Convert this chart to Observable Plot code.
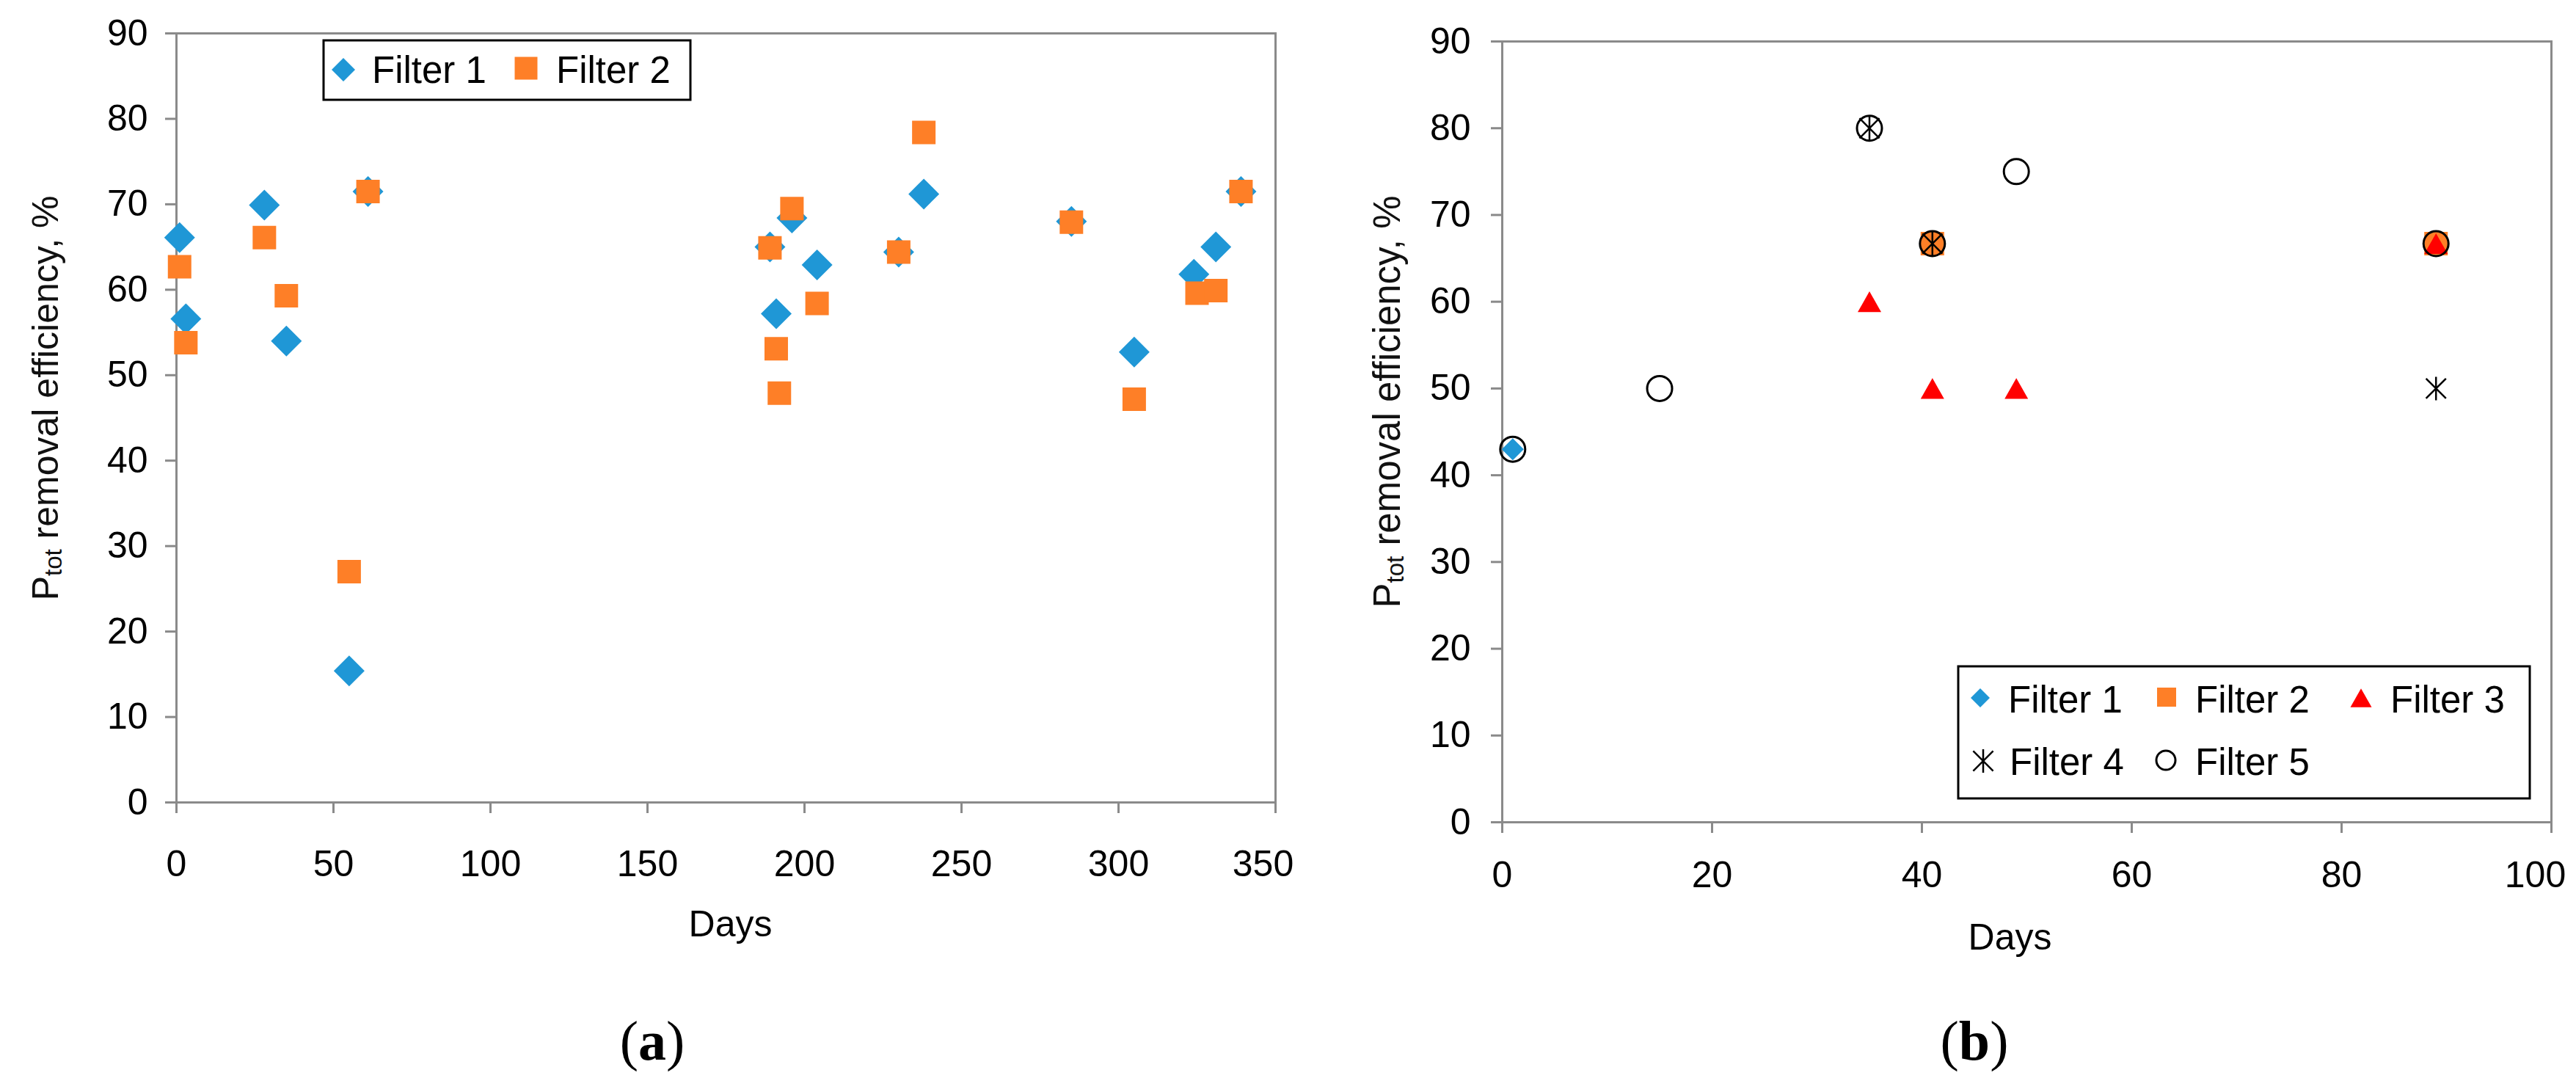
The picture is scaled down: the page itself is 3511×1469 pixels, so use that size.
<!DOCTYPE html>
<html><head><meta charset="utf-8">
<script src="https://cdn.jsdelivr.net/npm/d3@7"></script>
<script src="https://cdn.jsdelivr.net/npm/@observablehq/plot@0.6"></script>
<style>
html,body{margin:0;padding:0;background:#fff;}
#wrap{position:relative;width:3511px;height:1469px;background:#fff;overflow:hidden;font-family:"Liberation Sans",Arial,sans-serif;}
.cap{position:absolute;font-family:"Liberation Serif","Times New Roman",serif;font-size:76px;line-height:1;transform:translate(-50%,-50%);white-space:nowrap;color:#000;}
.cap b{font-weight:bold;}
</style></head><body><div id="wrap"></div>
<script>
// ---------- data: panel (a) ----------
const daysA_F1 = [1, 3, 28, 35, 55, 61, 189, 191, 196, 204, 230, 238, 285, 305, 324, 331, 339];
const effA_F1  = [66.1, 56.6, 69.9, 54.0, 15.4, 71.5, 65.0, 57.2, 68.4, 62.9, 64.4, 71.2, 68.0, 52.7, 61.8, 65.0, 71.5];
const daysA_F2 = [1, 3, 28, 35, 55, 61, 189, 191, 192, 196, 204, 230, 238, 285, 305, 325, 331, 339];
const effA_F2  = [62.7, 53.8, 66.1, 59.3, 27.0, 71.5, 64.9, 53.1, 47.9, 69.5, 58.4, 64.4, 78.4, 67.9, 47.2, 59.6, 59.9, 71.5];
const xTicksA = [0, 50, 100, 150, 200, 250, 300, 350];

// ---------- data: panel (b) ----------
const daysB_F1 = [1, 41, 89];
const effB_F1  = [43, 66.7, 66.7];
const daysB_F2 = [41, 89];
const effB_F2  = [66.7, 66.7];
const daysB_F3 = [35, 41, 49, 89];
const effB_F3  = [60, 50, 50, 66.7];
const daysB_F4 = [35, 41, 89];
const effB_F4  = [80, 66.7, 50];
const daysB_F5 = [1, 15, 35, 41, 49, 89];
const effB_F5  = [43, 50, 80, 66.7, 75, 66.7];
const xTicksB = [0, 20, 40, 60, 80, 100];
const yTicks = [0, 10, 20, 30, 40, 50, 60, 70, 80, 90];

const seriesNames = ["Filter 1", "Filter 2", "Filter 3", "Filter 4", "Filter 5"];
const yLabel = "Ptot removal efficiency, %";
const xLabel = "Days";

const BLUE = "#1f97d6", ORANGE = "#fe7f27", RED = "#ff0000", AXIS = "#8a8a8a";

// ---------- custom symbols (size = pi r^2) ----------
const rad = s => Math.sqrt(s / Math.PI);
const symDiamond = {draw(c, s){const r = rad(s); c.moveTo(0,-r); c.lineTo(r,0); c.lineTo(0,r); c.lineTo(-r,0); c.closePath();}};
const symSquare = {draw(c, s){const r = rad(s); c.moveTo(-r,-r); c.lineTo(r,-r); c.lineTo(r,r); c.lineTo(-r,r); c.closePath();}};
const symTriangle = {draw(c, s){const r = rad(s); c.moveTo(0,-0.88*r); c.lineTo(r,0.88*r); c.lineTo(-r,0.88*r); c.closePath();}};
const symAsterisk = {draw(c, s){const r = rad(s); const a = r*0.85; c.moveTo(0,-r); c.lineTo(0,r); c.moveTo(-a,-a); c.lineTo(a,a); c.moveTo(-a,a); c.lineTo(a,-a);}};
const symCircle = {draw(c, s){const r = rad(s); c.moveTo(r,0); c.arc(0,0,r,0,2*Math.PI);}};

const rows = (days, vals) => days.map((d, i) => ({day: d, eff: vals[i]}));

const wrap = document.getElementById("wrap");

function fixYLabel(svg){
  svg.querySelectorAll("text").forEach(t => {
    if (t.textContent === yLabel) {
      while (t.firstChild) t.removeChild(t.firstChild);
      const ns = "http://www.w3.org/2000/svg";
      const a = document.createElementNS(ns, "tspan"); a.textContent = "P";
      const b = document.createElementNS(ns, "tspan"); b.textContent = "tot"; b.setAttribute("font-size", "33"); b.setAttribute("dy", "5");
      const c = document.createElementNS(ns, "tspan"); c.textContent = " removal efficiency, %"; c.setAttribute("dy", "-5");
      t.appendChild(a); t.appendChild(b); t.appendChild(c);
    }
  });
}

const baseStyle = {fontFamily: "'Liberation Sans', Arial, sans-serif", fontSize: "50px", color: "#000", background: "transparent", overflow: "visible"};

// x tick labels: all but the last at the tick, the last nudged inwards as in the reference
function xAxisMarks(ticks, pad, lastDx){
  return [
    Plot.axisX({ticks, tickSize: 15, stroke: AXIS, strokeWidth: 3, text: null, label: null}),
    Plot.axisX({ticks: ticks.slice(0, -1), tickSize: 0, tickPadding: 15 + pad, fill: "#000", fontSize: 50, label: null}),
    Plot.axisX({ticks: ticks.slice(-1), tickSize: 0, tickPadding: 15 + pad, dx: lastDx, fill: "#000", fontSize: 50, label: null})
  ];
}

// ---------- panel (a) ----------
const plotA = Plot.plot({
  width: 1760, height: 1320,
  marginLeft: 240, marginRight: 22, marginTop: 45, marginBottom: 227,
  style: baseStyle,
  x: {domain: [0, 350]},
  y: {domain: [0, 90]},
  marks: [
    Plot.frame({stroke: AXIS, strokeWidth: 3}),
    Plot.axisY({ticks: yTicks, tickSize: 15, tickPadding: 24, stroke: AXIS, strokeWidth: 3, fill: "#000", fontSize: 50, label: null}),
    ...xAxisMarks(xTicksA, 50, -17),
    Plot.dot(rows(daysA_F1, effA_F1), {x: "day", y: "eff", symbol: symDiamond, r: 21, fill: BLUE}),
    Plot.dot(rows(daysA_F2, effA_F2), {x: "day", y: "eff", symbol: symSquare, r: 16, fill: ORANGE}),
    Plot.text([yLabel], {text: d => d, frameAnchor: "left", textAnchor: "middle", rotate: -90, dx: -178, dy: -27, fontSize: 50, fill: "#111"}),
    Plot.text([xLabel], {text: d => d, frameAnchor: "bottom", textAnchor: "middle", lineAnchor: "top", dx: 6, dy: 147, fontSize: 50, fill: "#000"})
  ]
});
plotA.style.position = "absolute"; plotA.style.left = "0px"; plotA.style.top = "0px";
fixYLabel(plotA);
wrap.appendChild(plotA);

// ---------- panel (b) ----------
const plotB = Plot.plot({
  width: 1751, height: 1320,
  marginLeft: 287, marginRight: 34, marginTop: 56, marginBottom: 200,
  style: baseStyle,
  x: {domain: [0, 100]},
  y: {domain: [0, 90]},
  marks: [
    Plot.frame({stroke: AXIS, strokeWidth: 3}),
    Plot.axisY({ticks: yTicks, tickSize: 15, tickPadding: 28, stroke: AXIS, strokeWidth: 3, fill: "#000", fontSize: 50, label: null}),
    ...xAxisMarks(xTicksB, 38, -22),
    Plot.dot(rows(daysB_F1, effB_F1), {x: "day", y: "eff", symbol: symDiamond, r: 15, fill: BLUE}),
    Plot.dot(rows(daysB_F2, effB_F2), {x: "day", y: "eff", symbol: symSquare, r: 16, fill: ORANGE}),
    Plot.dot(rows(daysB_F3, effB_F3), {x: "day", y: "eff", symbol: symTriangle, r: 16, fill: RED}),
    Plot.dot(rows(daysB_F4, effB_F4), {x: "day", y: "eff", symbol: symAsterisk, r: 16, fill: "none", stroke: "#000", strokeWidth: 2.5}),
    Plot.dot(rows(daysB_F5, effB_F5), {x: "day", y: "eff", symbol: symCircle, r: 17, fill: "none", stroke: "#000", strokeWidth: 3}),
    Plot.text([yLabel], {text: d => d, frameAnchor: "left", textAnchor: "middle", rotate: -90, dx: -156, dy: -41, fontSize: 51, fill: "#111"}),
    Plot.text([xLabel], {text: d => d, frameAnchor: "bottom", textAnchor: "middle", lineAnchor: "top", dx: -23, dy: 138, fontSize: 50, fill: "#000"})
  ]
});
plotB.style.position = "absolute"; plotB.style.left = "1760px"; plotB.style.top = "0px";
fixYLabel(plotB);
wrap.appendChild(plotB);

// ---------- legends (overlay) ----------
const ov = d3.select(wrap).append("svg")
  .attr("width", 3511).attr("height", 1469)
  .style("position", "absolute").style("left", "0px").style("top", "0px")
  .style("pointer-events", "none")
  .style("font-family", "'Liberation Sans', Arial, sans-serif");

function sym(obj, cx, cy, r, fill, stroke, sw){
  ov.append("path").attr("d", d3.symbol(obj, Math.PI * r * r)())
    .attr("transform", `translate(${cx},${cy})`)
    .attr("fill", fill).attr("stroke", stroke || "none").attr("stroke-width", sw || 0);
}
function label(txt, x, y){
  ov.append("text").attr("x", x).attr("y", y).attr("font-size", 51).attr("fill", "#000").text(txt);
}

// legend (a)
ov.append("rect").attr("x", 441).attr("y", 55).attr("width", 500).attr("height", 81)
  .attr("fill", "white").attr("stroke", "#000").attr("stroke-width", 3);
sym(symDiamond, 468, 95, 16, BLUE);
label(seriesNames[0], 507, 113);
sym(symSquare, 717, 93, 15.5, ORANGE);
label(seriesNames[1], 758, 113);

// legend (b)
ov.append("rect").attr("x", 2669).attr("y", 908).attr("width", 779).attr("height", 180)
  .attr("fill", "white").attr("stroke", "#000").attr("stroke-width", 3);
sym(symDiamond, 2699, 951, 13, BLUE);
label(seriesNames[0], 2737, 971);
sym(symSquare, 2953, 950, 13, ORANGE);
label(seriesNames[1], 2992, 971);
sym(symTriangle, 3218, 951, 14.5, RED);
label(seriesNames[2], 3258, 971);
sym(symAsterisk, 2703, 1037, 16, "none", "#000", 2.5);
label(seriesNames[3], 2739, 1056);
sym(symCircle, 2952, 1036, 13, "none", "#000", 3);
label(seriesNames[4], 2992, 1056);

// ---------- captions ----------
const capA = document.createElement("div"); capA.className = "cap"; capA.style.left = "889px"; capA.style.top = "1418px";
capA.innerHTML = "(<b>a</b>)"; wrap.appendChild(capA);
const capB = document.createElement("div"); capB.className = "cap"; capB.style.left = "2691px"; capB.style.top = "1418px";
capB.innerHTML = "(<b>b</b>)"; wrap.appendChild(capB);
</script>
</body></html>
